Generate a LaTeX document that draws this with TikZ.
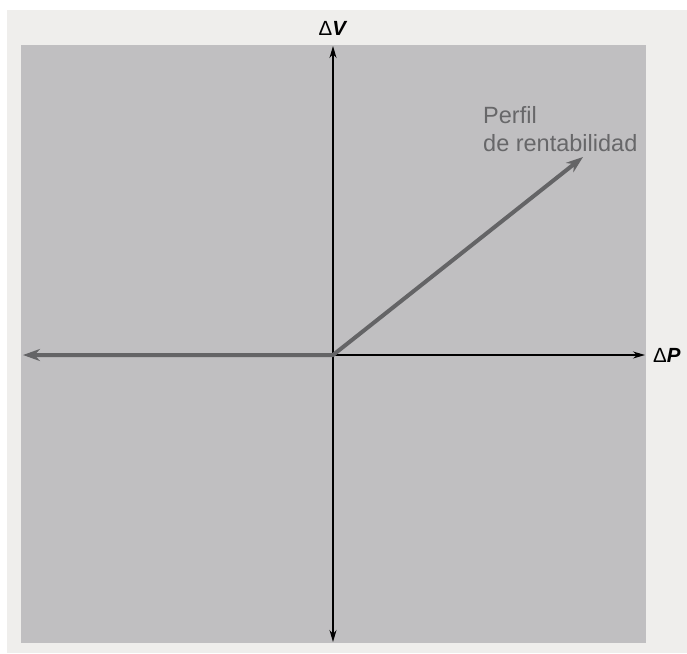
\documentclass[tikz,border=0pt]{standalone}
\usepackage{fontspec}
\setmainfont{Liberation Sans}
\usetikzlibrary{arrows.meta}
\definecolor{fondo}{HTML}{EFEEEC}
\definecolor{panel}{HTML}{C0BFC1}
\definecolor{perfil}{HTML}{646466}
\definecolor{rotulo}{HTML}{676769}
\begin{document}
\begin{tikzpicture}[x=1pt,y=-1pt,line join=round,
    >={Stealth[length=12pt,width=7pt]},
    eje/.style={->,black,line width=1.3pt},
    perfilrent/.style={perfil,line width=4pt,{Stealth[length=17pt,width=12pt]}-{Stealth[length=17pt,width=12pt]}},
    etiq/.style={inner sep=0pt,font=\fontsize{20.5}{20.5}\selectfont}]
    \useasboundingbox (0,0) rectangle (687,653);
    \fill[fondo] (7,10) rectangle (687,653);
    \fill[panel] (21,45) rectangle (646,643);
    \coordinate (O) at (333,355);
    \coordinate (arriba) at (333,46);
    \coordinate (abajo) at (333,642);
    \coordinate (derecha) at (645,355);
    \coordinate (izquierda) at (23,355);
    \coordinate (fin) at (583,157);
    \draw[eje,<->] (abajo)--(arriba);
    \draw[eje] (O)--(derecha);
    \draw[perfilrent] (izquierda)--(O)--(fin);
    \node[etiq,anchor=base] (dV) at (333,35) {Δ\textbf{\textit{V}}};
    \node[etiq,anchor=base west] (dP) at (653,362) {Δ\textbf{\textit{P}}};
    \node[inner sep=0pt,anchor=north west,align=left,text=rotulo,font=\fontsize{23.5}{28}\selectfont] (perfil) at (483,106) {Perfil\\de rentabilidad};
\end{tikzpicture}
\end{document}
